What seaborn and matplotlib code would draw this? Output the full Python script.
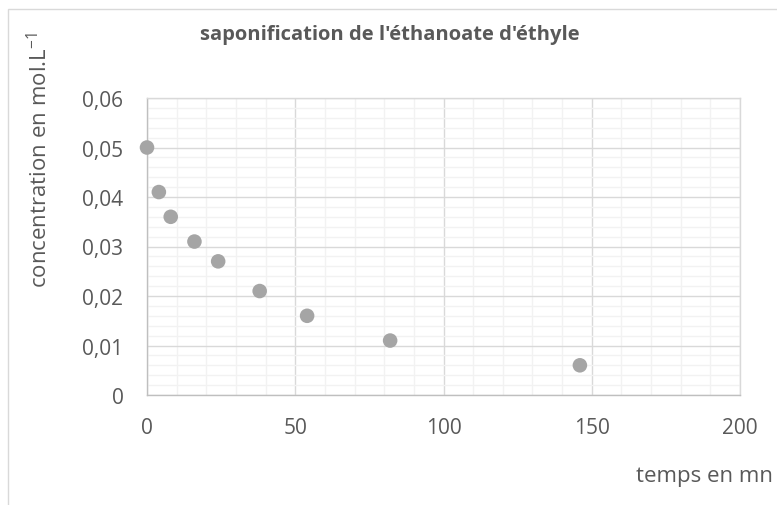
import matplotlib
matplotlib.use('Agg')
import matplotlib.pyplot as plt
import seaborn as sns
import pandas as pd
from matplotlib.ticker import MultipleLocator, FuncFormatter
from matplotlib.patches import Rectangle

# data
temps = [0, 4, 8, 16, 24, 38, 54, 82, 146]
concentration = [0.050, 0.041, 0.036, 0.031, 0.027, 0.021, 0.016, 0.011, 0.006]

data = pd.DataFrame({'temps': temps, 'concentration': concentration})

sns.set_theme(style="white")
plt.rcParams['font.family'] = ['Open Sans', 'DejaVu Sans']
plt.rcParams['mathtext.fontset'] = 'custom'
plt.rcParams['mathtext.rm'] = 'Open Sans'
txt = '#595959'

fig = plt.figure(figsize=(7.77, 5.06), dpi=100)
ax = fig.add_axes([147 / 777, 1 - 396 / 506, 593 / 777, 297 / 506])

ax.xaxis.set_major_locator(MultipleLocator(50))
ax.xaxis.set_minor_locator(MultipleLocator(10))
ax.yaxis.set_major_locator(MultipleLocator(0.01))
ax.yaxis.set_minor_locator(MultipleLocator(0.002))
ax.grid(which='minor', color='#F2F2F2', linewidth=1)
ax.grid(which='major', color='#D9D9D9', linewidth=1)
ax.set_axisbelow(True)

sns.scatterplot(data=data, x='temps', y='concentration', ax=ax, s=110,
                color='#A5A5A5', edgecolor='none', zorder=3, clip_on=False)

ax.set_xlim(0, 200)
ax.set_ylim(0, 0.06)
ax.yaxis.set_major_formatter(FuncFormatter(lambda v, p: '0' if abs(v) < 1e-9 else f'{v:.2f}'.replace('.', ',')))
ax.tick_params(axis='both', which='both', length=0, labelsize=15, colors=txt)
ax.tick_params(axis='x', pad=16)
ax.tick_params(axis='y', pad=17)
for s in ax.spines.values():
    s.set_color('#D9D9D9')
    s.set_linewidth(1)
ax.spines['left'].set_color('#BFBFBF')
ax.spines['bottom'].set_color('#BFBFBF')
ax.set_xlabel('')
ax.set_ylabel('')

fig.text(390 / 777, 1 - 35 / 506, "saponification de l'éthanoate d'éthyle", ha='center', va='center',
         fontsize=14.5, fontweight='bold', color=txt)
fig.text(40 / 777, 1 - 160 / 506, r'concentration en mol.L$^{\mathregular{-1}}$', rotation=90,
         ha='center', va='center', fontsize=16, color=txt)
fig.text(636 / 777, 1 - 477 / 506, 'temps en mn', ha='left', va='center', fontsize=16, color=txt)

fig.patches.append(Rectangle((8 / 777, -0.1), 1.2, 1 - 10 / 506 + 0.1, transform=fig.transFigure,
                             fill=False, edgecolor='#D9D9D9', linewidth=1))

fig.savefig('out.png', dpi=100)
